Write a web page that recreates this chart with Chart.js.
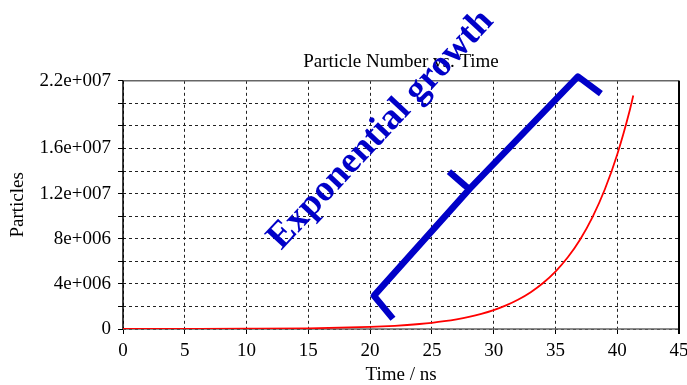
<!DOCTYPE html>
<html>
<head>
    <title>Particle Number vs. Time</title>
    <script src="https://cdn.jsdelivr.net/npm/chart.js"></script>
    <style>
        body { margin: 0; background: #fff; }
    </style>
</head>
<body>
    <canvas id="particleChart" width="687" height="385"></canvas>
    <script>
        // values
        const timeNs = [0, 5, 10, 15, 20, 21, 22, 23, 24, 25, 26, 27, 28, 29, 30,
                        31, 32, 33, 34, 35, 36, 37, 38, 39, 40, 41, 41.3];
        const particles = [2100, 6500, 20000, 60000, 182000, 227000, 284000, 354000, 442000,
                           552000, 690000, 861000, 1075000, 1343000, 1677000, 2094000, 2615000,
                           3265000, 4078000, 5090000, 6360000, 7940000, 9920000, 12390000,
                           15470000, 19320000, 20700000];
        const yTickValues = [0, 4e6, 8e6, 1.2e7, 1.6e7, 2.2e7];
        const yTickLabels = ['0', '4e+006', '8e+006', '1.2e+007', '1.6e+007', '2.2e+007'];

        // hand-drawn note, in data units (ns, particles)
        const noteText = 'Exponential growth';
        const noteAt = [20.88, 1.765e7];
        const braceMain = [[21.85, 9.1e5], [20.31, 2.95e6], [28.08, 1.245e7], [36.82, 2.238e7], [38.68, 2.087e7]];
        const braceTip = [[26.38, 1.395e7], [27.7, 1.27e7], [28.1, 1.235e7]];

        const serif = '"Liberation Serif", "Times New Roman", serif';
        const blue = 'rgb(0, 0, 200)';

        const frame = {
            id: 'frame',
            beforeDatasetsDraw(chart) {
                const { ctx, chartArea: a } = chart;
                ctx.save();
                ctx.lineWidth = 1.5;
                ctx.strokeStyle = '#666';
                ctx.beginPath();
                ctx.moveTo(a.left, a.top); ctx.lineTo(a.right, a.top);
                ctx.moveTo(a.left, a.bottom); ctx.lineTo(a.right, a.bottom);
                ctx.stroke();
                ctx.strokeStyle = '#000';
                ctx.beginPath();
                ctx.moveTo(a.left, a.top); ctx.lineTo(a.left, a.bottom);
                ctx.stroke();
                ctx.lineWidth = 2;
                ctx.beginPath();
                ctx.moveTo(a.right, a.top); ctx.lineTo(a.right, a.bottom + 5);
                ctx.stroke();
                ctx.restore();
            }
        };

        const note = {
            id: 'note',
            afterDraw(chart) {
                const { ctx, scales: { x, y } } = chart;
                const px = p => [x.getPixelForValue(p[0]), y.getPixelForValue(p[1])];
                ctx.save();
                ctx.strokeStyle = blue;
                ctx.lineWidth = 6.5;
                ctx.lineJoin = 'round';
                [braceMain, braceTip].forEach(path => {
                    ctx.beginPath();
                    path.forEach((p, i) => {
                        const [u, v] = px(p);
                        i ? ctx.lineTo(u, v) : ctx.moveTo(u, v);
                    });
                    ctx.stroke();
                });
                const [cx, cy] = px(noteAt);
                ctx.translate(cx, cy);
                ctx.rotate(-47 * Math.PI / 180);
                ctx.fillStyle = blue;
                ctx.font = 'bold 37px ' + serif;
                ctx.textAlign = 'center';
                ctx.textBaseline = 'middle';
                ctx.fillText(noteText, 0, 0);
                ctx.restore();
            }
        };

        const ctx = document.getElementById('particleChart').getContext('2d');
        new Chart(ctx, {
            type: 'line',
            data: {
                datasets: [{
                    data: timeNs.map((t, i) => ({ x: t, y: particles[i] })),
                    borderColor: 'red',
                    borderWidth: 1.8,
                    pointRadius: 0,
                    cubicInterpolationMode: 'monotone'
                }]
            },
            options: {
                responsive: false,
                animation: false,
                devicePixelRatio: 1,
                layout: { padding: { left: 0, right: 8, top: 0, bottom: 0 } },
                plugins: {
                    legend: { display: false },
                    tooltip: { enabled: false },
                    title: {
                        display: true,
                        fullSize: false,
                        text: 'Particle Number vs. Time',
                        color: '#000',
                        font: { family: serif, size: 19, weight: 'normal' },
                        padding: { top: 51, bottom: 7 }
                    }
                },
                scales: {
                    x: {
                        type: 'linear',
                        min: 0,
                        max: 45,
                        ticks: { stepSize: 5, color: '#000', padding: 6, maxRotation: 0, autoSkip: false,
                                 font: { family: serif, size: 19 } },
                        grid: { color: '#222', tickColor: '#000', tickLength: 5, tickBorderDash: [] },
                        border: { display: false, dash: [3, 3] },
                        title: { display: true, text: 'Time / ns', color: '#000',
                                 font: { family: serif, size: 19, lineHeight: 1 },
                                 padding: { top: 0, bottom: 0 } },
                        afterFit(s) { s.height = 56; s.paddingLeft = 0; s.paddingRight = 0; }
                    },
                    y: {
                        min: 0,
                        max: 2.2e7,
                        ticks: {
                            stepSize: 2e6, color: '#000', padding: 7, autoSkip: false,
                            font: { family: serif, size: 19 },
                            callback: v => {
                                const i = yTickValues.findIndex(t => Math.abs(t - v) < 1);
                                return i >= 0 ? yTickLabels[i] : '';
                            }
                        },
                        grid: { color: '#222', tickColor: '#000', tickLength: 5, tickBorderDash: [] },
                        border: { display: false, dash: [3, 3] },
                        title: { display: true, text: 'Particles', color: '#000',
                                 font: { family: serif, size: 19 },
                                 padding: { top: 6.6, bottom: 0 } },
                        afterFit(s) { s.width = 123; s.paddingTop = 0; s.paddingBottom = 0; }
                    }
                }
            },
            plugins: [frame, note]
        });
    </script>
</body>
</html>
